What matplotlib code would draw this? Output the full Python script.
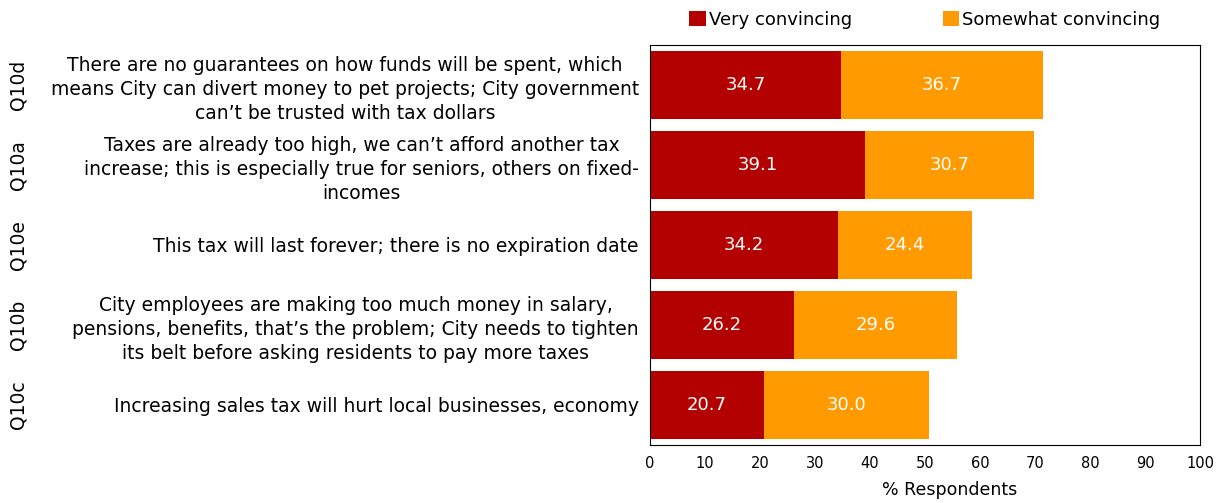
import matplotlib as mlp
mlp.use('Agg')
import matplotlib.pyplot as plt

codes = ['Q10d', 'Q10a', 'Q10e', 'Q10b', 'Q10c']
statements = [
    'There are no guarantees on how funds will be spent, which\nmeans City can divert money to pet projects; City government\ncan\u2019t be trusted with tax dollars',
    'Taxes are already too high, we can\u2019t afford another tax\nincrease; this is especially true for seniors, others on fixed-\nincomes',
    'This tax will last forever; there is no expiration date',
    'City employees are making too much money in salary,\npensions, benefits, that\u2019s the problem; City needs to tighten\nits belt before asking residents to pay more taxes',
    'Increasing sales tax will hurt local businesses, economy',
]
very = [34.7, 39.1, 34.2, 26.2, 20.7]
somewhat = [36.7, 30.7, 24.4, 29.6, 30.0]

c_very = '#b30000'
c_some = '#ff9b00'

fig = plt.figure(figsize=(12.21, 5.03), dpi=100)
ax = fig.add_axes([650/1221, 1-445/503, 550/1221, 400/503])

ypos = list(range(len(codes)))
b1 = ax.barh(ypos, very, height=0.85, color=c_very, label='Very convincing')
b2 = ax.barh(ypos, somewhat, left=very, height=0.85, color=c_some, label='Somewhat convincing')

for i in ypos:
    ax.text(very[i]/2, i, '%.1f' % very[i], color='white', ha='center', va='center', fontsize=13)
    ax.text(very[i] + somewhat[i]/2, i, '%.1f' % somewhat[i], color='white', ha='center', va='center', fontsize=13)

ax.set_xlim(0, 100)
ax.set_ylim(len(codes)-0.5, -0.5)
ax.set_xticks(range(0, 101, 10))
ax.set_yticks(ypos)
ax.set_yticklabels(statements, fontsize=13.5, multialignment='center', linespacing=1.35)
ax.tick_params(axis='both', length=0)
ax.tick_params(axis='y', pad=8)
ax.tick_params(axis='x', labelsize=10.5, pad=8)
ax.set_xlabel('% Respondents', fontsize=12.5)
ax.xaxis.set_label_coords(0.545, -0.09)
for s in ax.spines.values():
    s.set_linewidth(0.8)

# question codes on far left
for i, c in enumerate(codes):
    yfig = 1 - (45 + 40 + 80*i)/503
    fig.text(18/1221, yfig, c, rotation=90, ha='center', va='center', fontsize=13.5)

fig.legend(handles=[b1, b2], loc='center', bbox_to_anchor=(925/1221, 1-20/503), ncol=2,
           frameon=False, fontsize=13, handlelength=0.9, handleheight=0.9,
           handletextpad=0.2, columnspacing=5)

plt.savefig('out.png', dpi=100)
